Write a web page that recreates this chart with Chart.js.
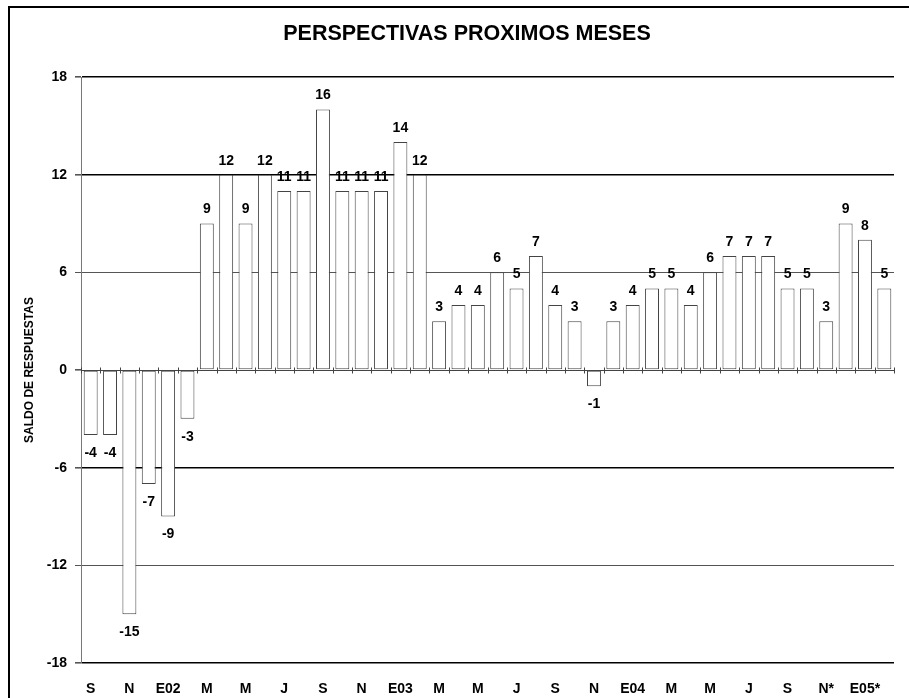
<!DOCTYPE html>
<html>
<head>
<meta charset="utf-8">
<script src="https://cdn.jsdelivr.net/npm/chart.js@4/dist/chart.umd.min.js"></script>
<style>
html,body{margin:0;padding:0;background:#fff;}
#wrap{position:relative;width:909px;height:698px;}
</style>
</head>
<body>
<div id="wrap"><canvas id="c" width="909" height="698"></canvas></div>
<script>
const monthLabels = ['S','','N','','E02','','M','','M','','J','','S','','N','','E03','','M','','M','','J','','S','','N','','E04','','M','','M','','J','','S','','N*','','E05*',''];
const saldo = [-4,-4,-15,-7,-9,-3,9,12,9,12,11,11,16,11,11,11,14,12,3,4,4,6,5,7,4,3,-1,3,4,5,5,4,6,7,7,7,5,5,3,9,8,5];
const yTicks = [-18,-12,-6,0,6,12,18];
const chartTitle = 'PERSPECTIVAS PROXIMOS MESES';
const yTitle = 'SALDO DE RESPUESTAS';

const FONT = "'Liberation Sans', Arial, sans-serif";

const frame = {
  id: 'frame',
  beforeDraw(chart) {
    const ctx = chart.ctx;
    ctx.save();
    ctx.fillStyle = '#fff';
    ctx.fillRect(0, 0, chart.width, chart.height);
    ctx.strokeStyle = '#000';
    ctx.lineWidth = 2;
    ctx.strokeRect(9, 7, chart.width + 10, chart.height + 10);
    ctx.restore();
  },
  afterDraw(chart) {
    const ctx = chart.ctx;
    ctx.save();
    ctx.font = "bold 21.5px " + FONT;
    ctx.fillStyle = '#000';
    ctx.textAlign = 'center';
    ctx.textBaseline = 'alphabetic';
    ctx.fillText(chartTitle, 467, 40);
    ctx.restore();
  }
};

const zeroLine = {
  id: 'zeroLine',
  afterDatasetsDraw(chart) {
    const ctx = chart.ctx;
    const x = chart.scales.x, y = chart.scales.y;
    const y0 = Math.round(y.getPixelForValue(0)) + 0.5;
    ctx.save();
    ctx.strokeStyle = '#444';
    ctx.lineWidth = 1;
    ctx.beginPath();
    ctx.moveTo(chart.chartArea.left, y0);
    ctx.lineTo(chart.chartArea.right, y0);
    const n = saldo.length;
    for (let i = 0; i <= n; i++) {
      const px = Math.round(x.getPixelForValue(i - 0.5)) + 0.5;
      ctx.moveTo(px, y0 - 3);
      ctx.lineTo(px, y0 + 3);
    }
    ctx.stroke();
    ctx.restore();
  }
};

const valueLabels = {
  id: 'valueLabels',
  afterDatasetsDraw(chart) {
    const ctx = chart.ctx;
    const meta = chart.getDatasetMeta(0);
    ctx.save();
    ctx.font = "bold 14px " + FONT;
    ctx.fillStyle = '#000';
    ctx.textAlign = 'center';
    ctx.textBaseline = 'middle';
    meta.data.forEach((el, i) => {
      const v = saldo[i];
      const yy = v >= 0 ? el.y - 14 : el.y + 18;
      ctx.fillText(String(v), el.x, yy);
    });
    ctx.restore();
  }
};

new Chart(document.getElementById('c'), {
  type: 'bar',
  data: {
    labels: monthLabels,
    datasets: [{
      data: saldo,
      backgroundColor: '#ffffff',
      borderColor: '#444',
      borderWidth: 1,
      borderSkipped: false,
      barPercentage: 0.72,
      categoryPercentage: 1.0
    }]
  },
  options: {
    responsive: false,
    animation: false,
    devicePixelRatio: 1,
    layout: { padding: { left: 0, right: 15, top: 77, bottom: 0 } },
    plugins: {
      legend: { display: false },
      tooltip: { enabled: false },
      title: { display: false }
    },
    scales: {
      x: {
        grid: { display: false },
        border: { display: false },
        ticks: {
          autoSkip: false,
          maxRotation: 0,
          minRotation: 0,
          color: '#000',
          padding: 10,
          font: { family: FONT, size: 14, weight: 'bold' }
        },
        afterFit(scale) { scale.height = 35; }
      },
      y: {
        min: -18,
        max: 18,
        afterBuildTicks(scale) { scale.ticks = yTicks.map(v => ({ value: v })); },
        ticks: {
          color: '#000',
          padding: 8,
          font: { family: FONT, size: 14, weight: 'bold' }
        },
        grid: {
          drawOnChartArea: true,
          tickLength: 6,
          color(ctx) {
            const v = ctx.tick && ctx.tick.value;
            if (v === 0) return 'rgba(0,0,0,0)';
            if (v === 6 || v === -12) return '#555';
            return '#000';
          },
          tickColor: '#555',
          lineWidth(ctx) {
            const v = ctx.tick && ctx.tick.value;
            if (v === 6 || v === -12) return 1;
            return 1.6;
          }
        },
        border: { display: true, color: '#777', width: 1 },
        title: {
          display: true,
          text: yTitle,
          color: '#000',
          font: { family: FONT, size: 12, weight: 'bold' },
          padding: { top: 22, bottom: 0 }
        },
        afterFit(scale) { scale.width = 81; }
      }
    }
  },
  plugins: [frame, zeroLine, valueLabels]
});
</script>
</body>
</html>
